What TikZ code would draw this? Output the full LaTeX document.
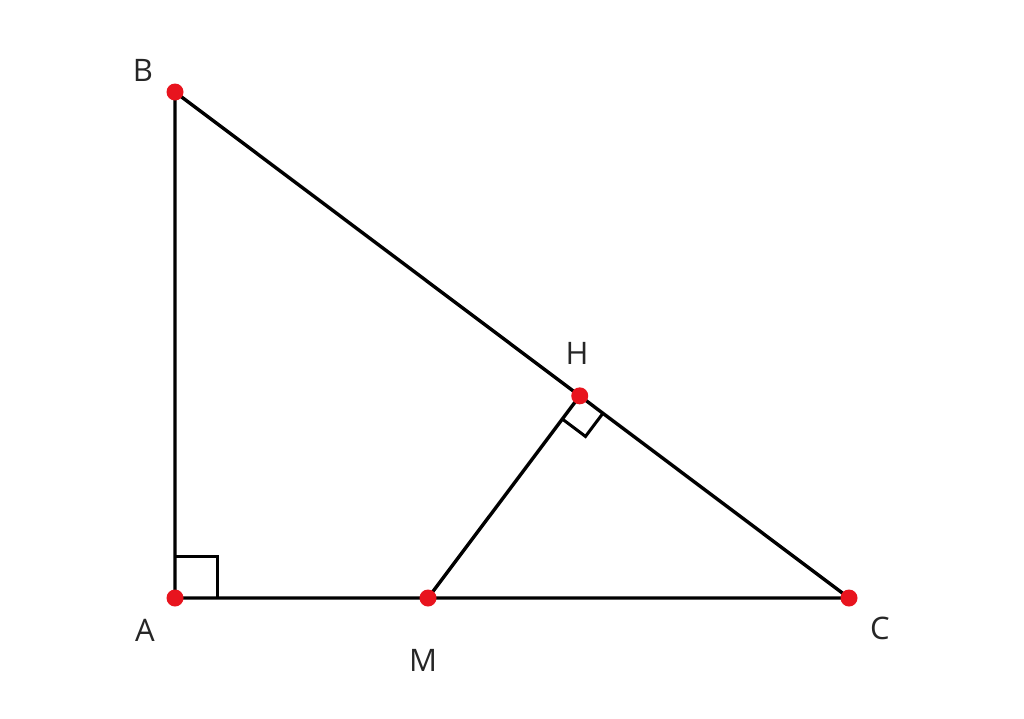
\documentclass[tikz,border=0pt]{standalone}
\usepackage{fontspec}
\setmainfont{Open Sans}
\usetikzlibrary{calc}
\definecolor{dotred}{RGB}{232,20,30}
\begin{document}
\begin{tikzpicture}[x=1pt,y=-1pt,
  seg/.style={line width=3.4pt,black},
  ramark/.style={line width=3pt,black},
  pt/.style={circle,fill=dotred,inner sep=0pt,minimum size=17pt},
  lbl/.style={font=\fontsize{31}{31}\selectfont,text=black!85}]
\useasboundingbox (0,0) rectangle (1024,718);
\fill[white] (0,0) rectangle (1024,718);
\coordinate (A) at (175,598);
\coordinate (B) at (175,92);
\coordinate (C) at (849,598);
\coordinate (M) at (428,598);
\coordinate (H) at ($(B)!(M)!(C)$);
% right angle marks
\draw[ramark] ($(A)+(0,-42)$) -- ($(A)+(42,-42)$) -- ($(A)+(42,0)$);
\coordinate (h1) at ($(H)!29pt!(M)$);
\coordinate (h2) at ($(H)!29pt!(C)$);
\draw[ramark] (h1) -- ($(h1)+(h2)-(H)$) -- (h2);
% sides
\draw[seg,line join=miter] (B) -- (A) -- (C) -- cycle;
\draw[seg] (M) -- (H);
% points
\node[pt] (pA) at (A) {};
\node[pt] (pB) at (B) {};
\node[pt] (pC) at (C) {};
\node[pt] (pM) at (M) {};
\node[pt] (pH) at (H) {};
% labels
\node[lbl] (lB) at (143,70) {B};
\node[lbl] (lA) at (145,630) {A};
\node[lbl] (lC) at (880,628) {C};
\node[lbl] (lM) at (423,660) {M};
\node[lbl] (lH) at (577,353) {H};
\end{tikzpicture}
\end{document}
